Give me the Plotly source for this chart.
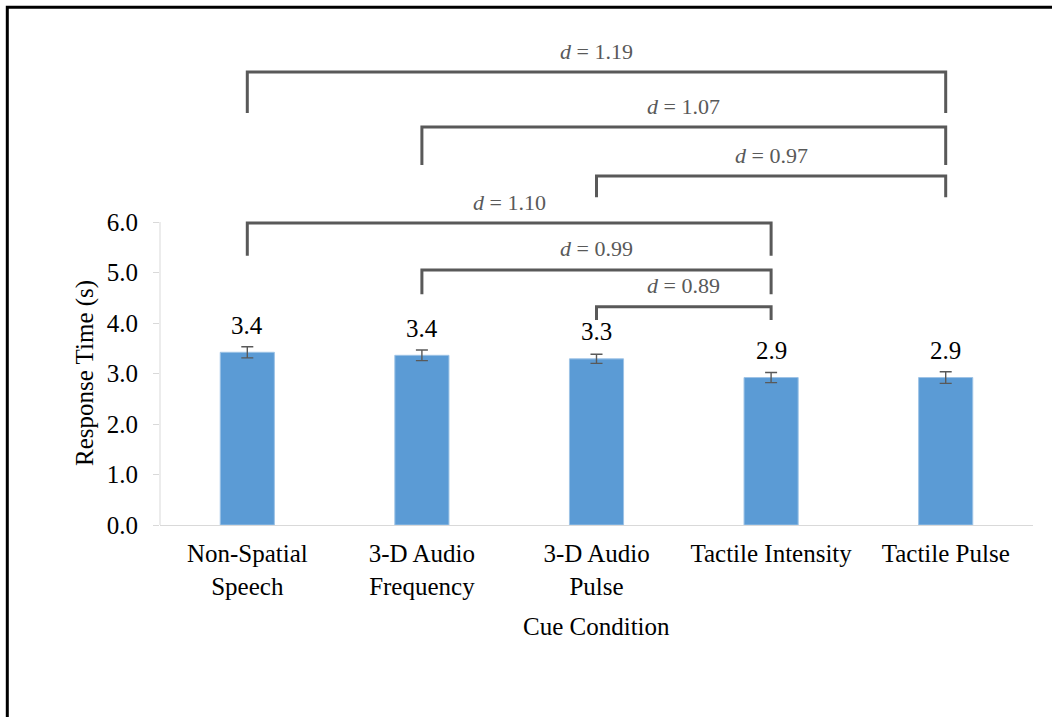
import plotly.graph_objects as go

# ---------------- data ----------------
categories = ["Non-Spatial<br>Speech", "3-D Audio<br>Frequency", "3-D Audio<br>Pulse",
              "Tactile Intensity", "Tactile Pulse"]
response_times = [3.42, 3.36, 3.29, 2.92, 2.92]
error_values = [0.11, 0.105, 0.09, 0.10, 0.115]
y_tick_values = [0, 1, 2, 3, 4, 5, 6]
y_tick_labels = [f"{v:.1f}" for v in y_tick_values]

# pairwise comparisons (category index from / to) and effect sizes
bracket_from = [0, 1, 2, 0, 1, 2]
bracket_to = [4, 4, 4, 3, 3, 3]
effect_sizes = [1.19, 1.07, 0.97, 1.10, 0.99, 0.89]

# ---------------- layout config ----------------
W, H = 1052, 717
ML, MR, MT, MB = 160, 19, 30, 192
plot_w = W - ML - MR
plot_h = H - MT - MB
px_per_unit = 50.5
y_max = plot_h / px_per_unit

bracket_levels = [8.97, 7.88, 6.91, 5.98, 5.05, 4.32]
bracket_drops = [0.81, 0.75, 0.42, 0.65, 0.48, 0.26]

FONT = "Liberation Serif, Times New Roman, serif"
GREY = "#595959"
FS = 25


def paper_x(px):
    return (px - ML) / plot_w


def paper_y(py):
    return (H - MB - py) / plot_h


x_idx = list(range(len(categories)))

fig = go.Figure()
fig.add_trace(go.Bar(
    x=x_idx, y=response_times,
    marker=dict(color="#5b9bd5", line=dict(color="#9dc3e6", width=1)),
    error_y=dict(type="data", array=error_values, color=GREY, thickness=1.4, width=6),
    width=0.31,
    showlegend=False,
    hoverinfo="skip",
))

shapes = []
annotations = []

# bar value labels
for i, v in enumerate(response_times):
    annotations.append(dict(
        x=i, y=v, xref="x", yref="y", text=f"{v:.1f}", showarrow=False,
        yanchor="middle", yshift=27, font=dict(family=FONT, size=FS, color="#000000"),
    ))

# comparison brackets
for a, b, d, lvl, drop in zip(bracket_from, bracket_to, effect_sizes, bracket_levels, bracket_drops):
    shapes.append(dict(
        type="path", xref="x", yref="y",
        path=f"M {a},{lvl - drop} L {a},{lvl} L {b},{lvl} L {b},{lvl - drop}",
        line=dict(color=GREY, width=3),
    ))
    annotations.append(dict(
        x=(a + b) / 2, y=lvl, xref="x", yref="y",
        text=f"<i>d</i> = {d:.2f}", showarrow=False, yanchor="middle", yshift=21,
        font=dict(family=FONT, size=22, color=GREY),
    ))

# y axis line only up to 6.0
shapes.append(dict(type="line", xref="paper", yref="y", x0=0, x1=0, y0=0, y1=6,
                   line=dict(color="#d9d9d9", width=1)))

# outer frame (top and left edges)
shapes.append(dict(
    type="path", xref="paper", yref="paper",
    path=(f"M {paper_x(7.3)},{paper_y(725)} L {paper_x(7.3)},{paper_y(7.3)} "
          f"L {paper_x(1060)},{paper_y(7.3)}"),
    line=dict(color="#000000", width=3),
))

# axis titles
annotations.append(dict(
    x=paper_x(596.5), y=paper_y(626), xref="paper", yref="paper", text="Cue Condition",
    showarrow=False, xanchor="center", yanchor="middle",
    font=dict(family=FONT, size=FS, color="#000000"),
))
annotations.append(dict(
    x=paper_x(85), y=paper_y(373), xref="paper", yref="paper", text="Response Time (s)",
    showarrow=False, textangle=-90, xanchor="center", yanchor="middle",
    font=dict(family=FONT, size=FS, color="#000000"),
))

fig.update_layout(
    width=W, height=H,
    margin=dict(l=ML, r=MR, t=MT, b=MB, autoexpand=False),
    paper_bgcolor="white", plot_bgcolor="white",
    bargap=0.69,
    shapes=shapes, annotations=annotations,
    xaxis=dict(
        range=[-0.5, 4.5], tickvals=x_idx, ticktext=categories,
        showline=True, linecolor="#d9d9d9", linewidth=1, ticks="",
        showgrid=False, zeroline=False, ticklabelstandoff=6,
        tickfont=dict(family=FONT, size=FS, color="#000000"),
    ),
    yaxis=dict(
        range=[0, y_max], tickvals=y_tick_values, ticktext=y_tick_labels,
        showline=False, ticks="outside", ticklen=6, tickcolor="#d9d9d9",
        showgrid=False, zeroline=False, ticklabelstandoff=10,
        tickfont=dict(family=FONT, size=FS, color="#000000"),
    ),
)

fig.write_html(
    "out.html",
    config={"displayModeBar": False},
    post_script="document.body.style.margin='0px';document.body.style.overflow='hidden';",
)
